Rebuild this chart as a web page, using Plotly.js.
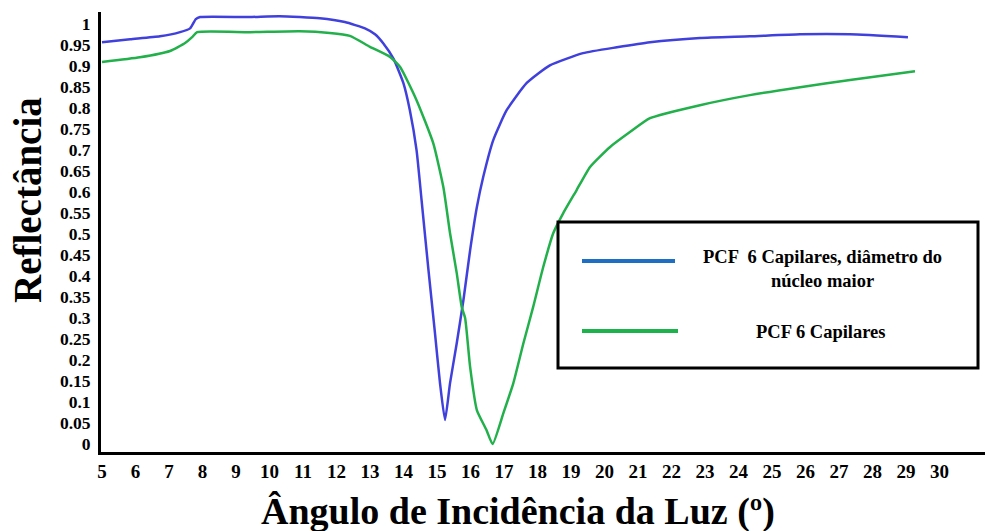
<!DOCTYPE html>
<html>
<head>
<meta charset="utf-8">
<script src="https://cdn.plot.ly/plotly-3.0.1.min.js"></script>
<style>html,body{margin:0;padding:0;background:#fff;}#chart{width:985px;height:531px;}</style>
</head>
<body>
<div id="chart"></div>
<script>
// Series: PCF 6 Capilares, diâmetro do núcleo maior (blue)
const blueX = [5.0, 5.84, 6.73, 7.33, 7.63, 7.8, 7.93, 9.4, 10.3, 11.5, 12.25, 12.85, 13.15, 13.4, 13.7, 14.0, 14.19, 14.39, 14.54, 14.74, 14.94, 15.09, 15.24, 15.39, 15.59, 15.79, 15.99, 16.19, 16.38, 16.68, 17.08, 17.68, 18.37, 19.36, 20.37, 21.36, 22.85, 24.34, 25.84, 27.33, 29.06];
const blueY = [0.957, 0.964, 0.971, 0.981, 0.99, 1.012, 1.017, 1.017, 1.019, 1.014, 1.005, 0.99, 0.976, 0.954, 0.918, 0.859, 0.795, 0.70, 0.581, 0.419, 0.264, 0.145, 0.057, 0.145, 0.240, 0.343, 0.462, 0.564, 0.636, 0.724, 0.795, 0.860, 0.902, 0.931, 0.945, 0.957, 0.967, 0.971, 0.976, 0.976, 0.969];
// Series: PCF 6 Capilares (green)
const greenX = [5.0, 6.13, 7.03, 7.48, 7.69, 7.84, 9.42, 10.9, 11.8, 12.4, 13.0, 13.6, 13.9, 14.39, 14.89, 15.19, 15.39, 15.59, 15.74, 15.84, 15.99, 16.19, 16.48, 16.66, 16.98, 17.28, 17.58, 17.87, 18.17, 18.47, 18.77, 19.17, 19.57, 20.16, 20.76, 21.36, 22.85, 24.34, 25.84, 27.33, 29.27];
const greenY = [0.91, 0.921, 0.936, 0.955, 0.969, 0.981, 0.981, 0.983, 0.979, 0.972, 0.946, 0.922, 0.898, 0.819, 0.716, 0.612, 0.502, 0.407, 0.326, 0.300, 0.183, 0.081, 0.033, 0.0, 0.073, 0.145, 0.24, 0.326, 0.421, 0.502, 0.55, 0.605, 0.66, 0.707, 0.743, 0.776, 0.807, 0.831, 0.85, 0.867, 0.888];
// Tick labels
const xTicks = [5,6,7,8,9,10,11,12,13,14,15,16,17,18,19,20,21,22,23,24,25,26,27,28,29,30];
const yTicks = [0,0.05,0.1,0.15,0.2,0.25,0.3,0.35,0.4,0.45,0.5,0.55,0.6,0.65,0.7,0.75,0.8,0.85,0.9,0.95,1];
const yTickText = yTicks.map(v => String(v));
const seriesNames = ["PCF  6 Capilares, diâmetro do<br>núcleo maior", "PCF 6 Capilares"];

const serif = "'Liberation Serif', 'Times New Roman', serif";

const traces = [
  {x: blueX, y: blueY, type: 'scatter', mode: 'lines', name: seriesNames[0],
   line: {color: '#4040dc', width: 2.5, shape: 'spline', smoothing: 0.5}},
  {x: greenX, y: greenY, type: 'scatter', mode: 'lines', name: seriesNames[1],
   line: {color: '#22b04b', width: 2.5, shape: 'spline', smoothing: 0.5}}
];

const layout = {
  width: 985, height: 531,
  margin: {l: 101, r: 0, t: 12, b: 79},
  paper_bgcolor: '#fff', plot_bgcolor: '#fff',
  showlegend: false,
  xaxis: {
    range: [4.97, 31.36], tickvals: xTicks, ticktext: xTicks.map(String),
    showgrid: false, zeroline: false, showline: true, linecolor: '#000', linewidth: 3,
    ticks: '', tickfont: {family: serif, size: 19, color: '#000', weight: 'bold'},
    title: {text: ''}
  },
  yaxis: {
    range: [-0.019, 1.029], tickvals: yTicks, ticktext: yTickText,
    showgrid: false, zeroline: false, showline: true, linecolor: '#000', linewidth: 3,
    ticks: '', ticklen: 0, ticklabelstandoff: 4,
    tickfont: {family: serif, size: 17.5, color: '#000', weight: 'bold'},
    title: {text: ''}
  },
  annotations: [
    {text: '<b>Ângulo de Incidência da Luz (º)</b>', xref: 'paper', yref: 'paper',
     x: (518-101)/884, y: -(512-452)/440, xanchor: 'center', yanchor: 'middle', showarrow: false,
     font: {family: serif, size: 38, color: '#000'}},
    {text: '<b>Reflectância</b>', xref: 'paper', yref: 'paper', textangle: -90,
     x: (27-101)/884, y: (452-200)/440, xanchor: 'center', yanchor: 'middle', showarrow: false,
     font: {family: serif, size: 39, color: '#000'}},
    {text: '<b>' + seriesNames[0] + '</b>', xref: 'paper', yref: 'paper',
     x: (822-101)/884, y: (452-269)/440, xanchor: 'center', yanchor: 'middle', showarrow: false, align: 'center',
     font: {family: serif, size: 18.5, color: '#000'}},
    {text: '<b>' + seriesNames[1] + '</b>', xref: 'paper', yref: 'paper',
     x: (821-101)/884, y: (452-332)/440, xanchor: 'center', yanchor: 'middle', showarrow: false,
     font: {family: serif, size: 18.5, color: '#000'}}
  ],
  shapes: [
    {type: 'rect', xref: 'paper', yref: 'paper', x0: (558-101)/884, x1: (978-101)/884,
     y0: (452-368)/440, y1: (452-222)/440, line: {color: '#000', width: 3}, fillcolor: '#fff', layer: 'above'},
    {type: 'line', xref: 'paper', yref: 'paper', x0: (582-101)/884, x1: (675-101)/884,
     y0: (452-261)/440, y1: (452-261)/440, line: {color: '#1e6fc4', width: 4}},
    {type: 'line', xref: 'paper', yref: 'paper', x0: (582-101)/884, x1: (678-101)/884,
     y0: (452-331)/440, y1: (452-331)/440, line: {color: '#1db34c', width: 4}}
  ]
};

Plotly.newPlot('chart', traces, layout, {displayModeBar: false, staticPlot: true});
</script>
</body>
</html>
